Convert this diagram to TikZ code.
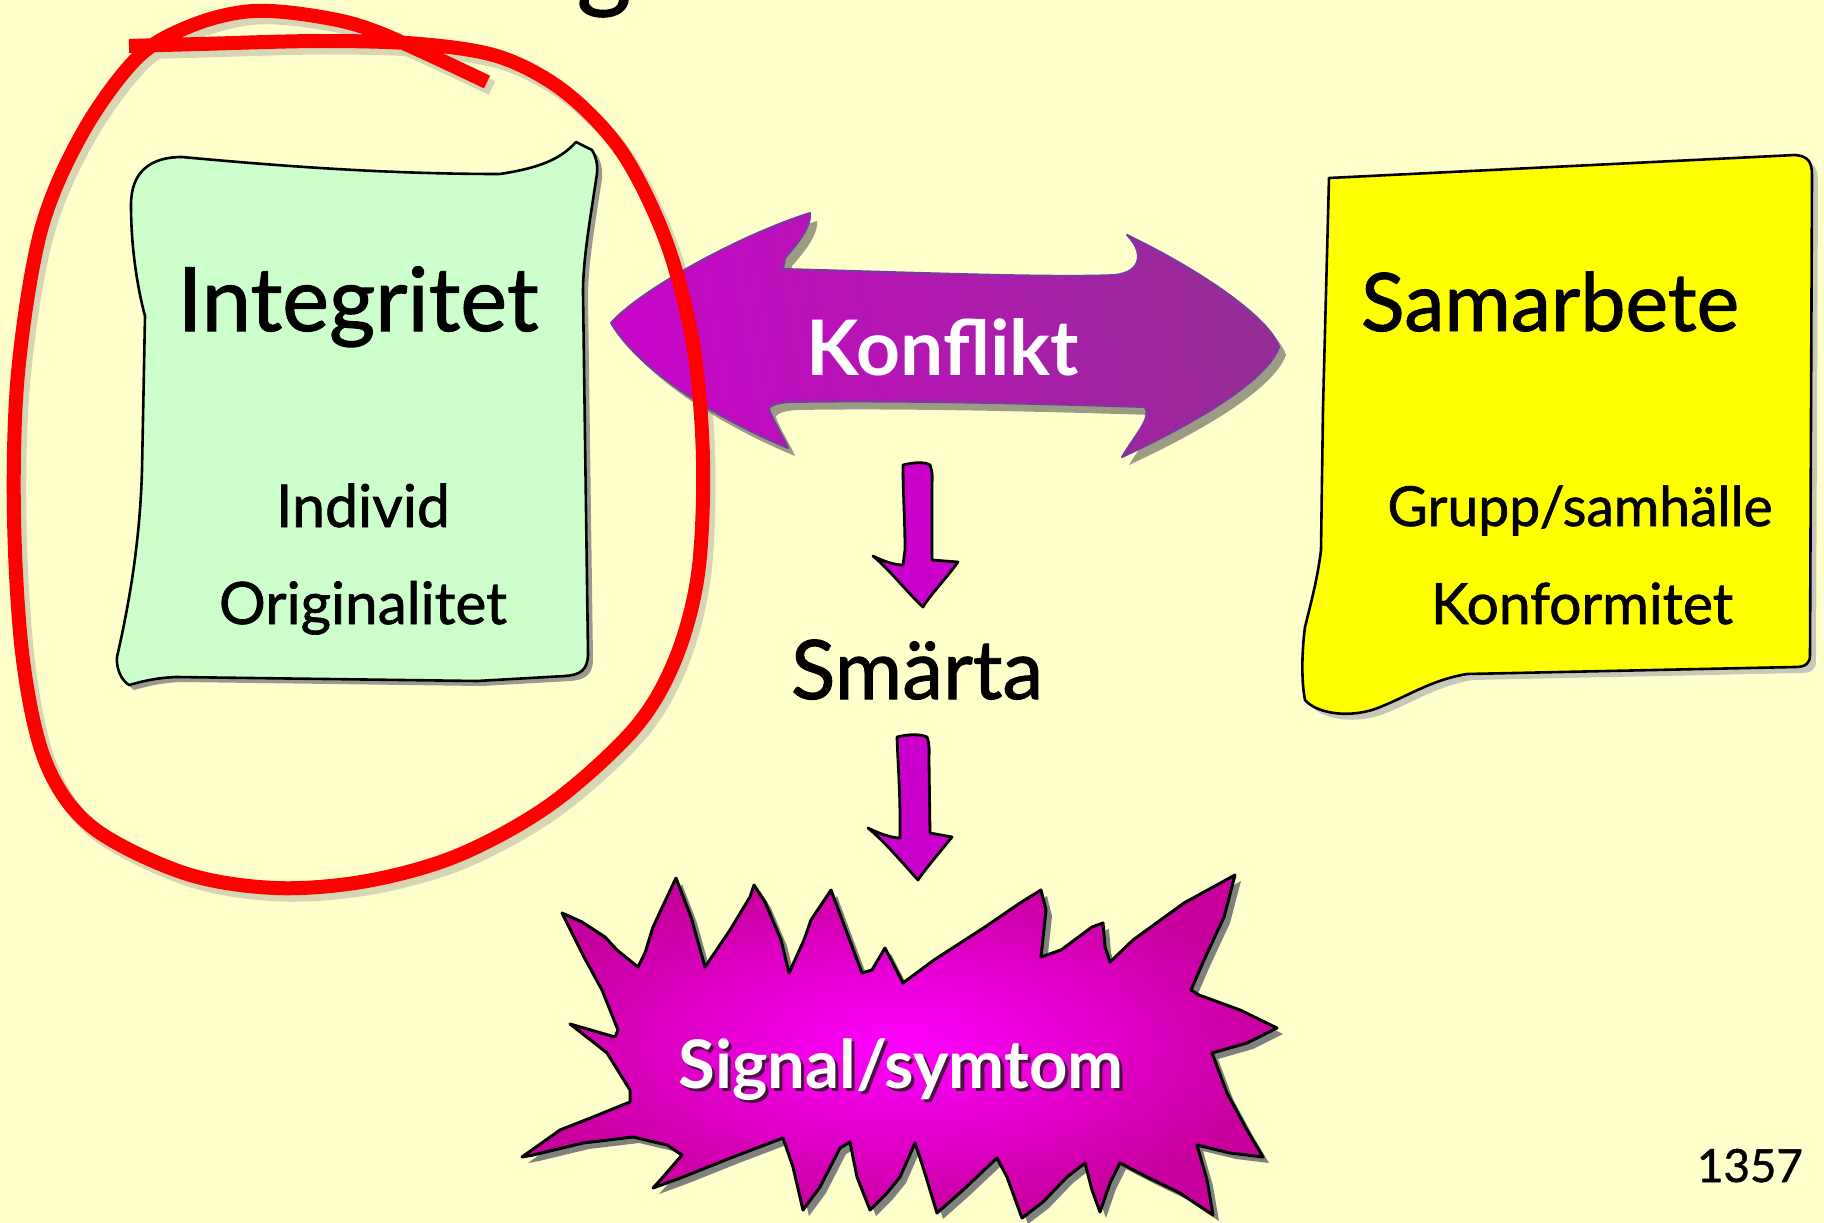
\documentclass[tikz,border=0pt]{standalone}
\usepackage{fontspec}
\usepackage{graphicx}
\setmainfont{Lato}
\newfontfamily\handfont[FakeBold=1.2]{Lato}
\definecolor{bg}{HTML}{FFFFCC}
\definecolor{mint}{HTML}{CCFFCC}
\definecolor{lemon}{HTML}{FFFF00}
\definecolor{violetL}{HTML}{C806C8}
\definecolor{violetR}{HTML}{962C96}
\definecolor{violetEdge}{HTML}{7A3AA0}
\definecolor{magentaC}{HTML}{FF00FF}
\definecolor{magentaE}{HTML}{C8009E}
\definecolor{arrowfill}{HTML}{CC00CC}
\definecolor{loopred}{HTML}{FF0000}
\definecolor{signalshade}{HTML}{4A1040}
\newcommand{\setfs}[1]{\fontsize{#1}{#1}\selectfont}
% set a word at a given width (in pt, one pt per pixel here)
\newcommand{\fitw}[2]{\resizebox{#1pt}{!}{#2}}
% white word with a dark copy behind it, offset down and right
\newcommand{\shadowword}[2]{\rlap{\raisebox{-3pt}{\hspace{3pt}\color{#1}#2}}\color{white}#2}
\tikzset{
  txt/.style={inner sep=0pt, anchor=base, font=\handfont\setfs{60}},
  boldtxt/.style={inner sep=0pt, anchor=base, font=\bfseries\setfs{60}},
  boxedge/.style={draw=black, line width=2.6pt, line join=round},
  boxshadow/.style={fill=black!50, opacity=0.8},
  blockarrow/.style={fill=arrowfill, draw=black, line width=2.8pt, line join=round},
}
\begin{document}
\begin{tikzpicture}[x=1pt,y=-1pt]
\useasboundingbox (0,0) rectangle (1824,1223);
\fill[bg] (0,0) rectangle (1824,1223);

% descender of the heading line above
\begin{scope}
\clip (0,0) rectangle (1824,1223);
\node[txt, font=\handfont\setfs{105}] (head) at (604,-2) {g};
\end{scope}

% ---------- red loop around the left note ----------
\def\looppath{plot[smooth, tension=0.55] coordinates {
 (129,46) (200,44) (321,41) (420,44) (500,57) (565,92) (622,152) (666,241)
 (693,344) (703,459) (698,574) (675,660) (634,729) (551,804) (459,855)
 (367,881) (275,888) (184,873) (92,827) (46,763) (23,660) (14,517)
 (18,373) (41,230) (83,132) (138,57) (193,25) (253,11) (321,17) (380,33) (487,82)}}
\draw[black!45, opacity=0.35, line width=15pt, shift={(5,6)}] \looppath;

% ---------- left note ----------
\def\mintpath{(145,316) .. controls (138,290) and (131,250) .. (131,205)
 .. controls (131,172) and (150,157) .. (182,157)
 .. controls (300,168) and (400,174) .. (500,174)
 .. controls (538,168) and (560,160) .. (576,142) -- (592,150)
 .. controls (598,160) and (598,170) .. (596,180)
 .. controls (590,220) and (583,260) .. (583,292) -- (588,654)
 .. controls (588,670) and (580,675) .. (565,676) -- (477,681) -- (176,677)
 .. controls (152,678) and (137,683) .. (129,685)
 .. controls (121,680) and (116,668) .. (117,657)
 .. controls (130,600) and (140,540) .. (142,470) -- cycle}
\fill[boxshadow, shift={(5,5)}] \mintpath;
\filldraw[fill=mint, boxedge] \mintpath;

% ---------- right note ----------
\def\lemonpath{(1329,178) -- (1795,155)
 .. controls (1808,156) and (1812,162) .. (1812,175) -- (1810,655)
 .. controls (1810,664) and (1805,667) .. (1795,667) -- (1467,674)
 .. controls (1430,680) and (1405,698) .. (1375,709)
 .. controls (1345,719) and (1315,712) .. (1305,700)
 .. controls (1301,680) and (1302,650) .. (1305,627)
 .. controls (1313,595) and (1318,575) .. (1321,550) -- (1323,408) -- cycle}
\fill[black!30, opacity=0.7, shift={(6,6)}] \lemonpath;
\filldraw[fill=lemon, boxedge] \lemonpath;

% ---------- double arrow ----------
\def\konfpath{(611,323) .. controls (640,290) and (740,235) .. (810,213)
 .. controls (812,228) and (792,250) .. (785,258) -- (783,269)
 .. controls (900,272) and (1050,278) .. (1115,275)
 .. controls (1142,272) and (1144,252) .. (1127,235)
 .. controls (1200,270) and (1270,318) .. (1279,347)
 .. controls (1265,385) and (1180,430) .. (1122,457)
 .. controls (1135,435) and (1152,418) .. (1145,407)
 .. controls (1050,404) and (900,400) .. (790,402)
 .. controls (772,403) and (766,408) .. (770,412)
 .. controls (776,426) and (785,440) .. (788,448)
 .. controls (720,420) and (640,372) .. (611,323) -- cycle}
\fill[black!70, opacity=0.55, shift={(7,8)}] \konfpath;
\shade[left color=violetL, right color=violetR, shading angle=100] \konfpath;
\draw[violetEdge, line width=2pt, line join=round] \konfpath;

% ---------- burst ----------
\def\burstpath{(562,913) -- (582,922) -- (605,937) -- (617,950) -- (638,967)
 -- (645,953) -- (653,927) -- (676,878) -- (691,917) -- (705,967)
 -- (730,930) -- (750,897) -- (754,885) -- (765,902) -- (781,940) -- (789,973)
 -- (804,940) -- (811,920) -- (831,890) -- (847,933) -- (862,973) -- (872,970)
 -- (885,948) -- (903,983) -- (934,960) -- (985,927) -- (1020,903) -- (1041,890)
 -- (1046,910) -- (1041,957) -- (1061,950) -- (1092,927) -- (1103,923)
 -- (1105,947) -- (1110,962) -- (1133,940) -- (1184,903) -- (1235,875)
 -- (1224,917) -- (1204,960) -- (1191,990) -- (1199,995) -- (1240,1010)
 -- (1277,1028) -- (1247,1043) -- (1212,1053) -- (1227,1093) -- (1247,1130)
 -- (1263,1157) -- (1230,1153) -- (1197,1145) -- (1207,1180) -- (1213,1215)
 -- (1180,1193) -- (1147,1177) -- (1120,1163) -- (1110,1183) -- (1100,1212)
 -- (1092,1190) -- (1085,1163) -- (1067,1177) -- (1043,1202) -- (1022,1218)
 -- (1007,1177) -- (997,1158) -- (963,1190) -- (937,1213) -- (923,1167)
 -- (915,1143) -- (900,1177) -- (887,1193) -- (870,1210) -- (857,1177)
 -- (850,1142) -- (840,1148) -- (820,1187) -- (803,1210) -- (793,1167)
 -- (783,1138) -- (733,1157) -- (683,1177) -- (653,1188) -- (663,1177)
 -- (682,1155) -- (667,1145) -- (633,1137) -- (583,1143) -- (533,1155)
 -- (522,1157) -- (560,1130) -- (593,1117) -- (630,1102) -- (630,1090)
 -- (607,1053) -- (597,1045) -- (570,1024) -- (615,1037) -- (618,1030)
 -- (602,990) -- (584,957) -- cycle}
\fill[black!50, shift={(6,6)}] \burstpath;
\shade[inner color=magentaC, outer color=magentaE] \burstpath;
\draw[black, line width=3pt, line join=round] \burstpath;

% ---------- small down arrows ----------
\filldraw[blockarrow] (903,465) .. controls (915,462) and (925,462) .. (930,465)
 .. controls (933,472) and (932,478) .. (932,486) -- (932,560) -- (958,562)
 .. controls (945,580) and (930,595) .. (923,607)
 .. controls (905,590) and (890,570) .. (873,556)
 .. controls (885,562) and (895,565) .. (903,565) -- (905,550)
 .. controls (905,520) and (903,495) .. (903,465) -- cycle;
\filldraw[blockarrow] (897,737) .. controls (909,734) and (920,734) .. (927,737)
 .. controls (930,745) and (929,752) .. (929,760) -- (930,833) -- (952,837)
 .. controls (940,852) and (926,868) .. (918,880)
 .. controls (900,860) and (885,842) .. (868,828)
 .. controls (880,834) and (892,838) .. (900,838) -- (900,820)
 .. controls (900,790) and (898,765) .. (897,737) -- cycle;

% ---------- red loop ----------
\draw[loopred, line width=14pt] \looppath;

% ---------- texts ----------
\node[txt] (integ) at (358,331) {\fitw{361}{Integritet}};
\node[txt] (indiv) at (363,527) {\fitw{174}{Individ}};
\node[txt] (orig) at (363,624) {\fitw{288}{Originalitet}};
\node[txt] (samarb) at (1550,331) {\fitw{378}{Samarbete}};
\node[txt] (grupp) at (1580,526) {\fitw{385}{Grupp/samhälle}};
\node[txt] (konform) at (1582,624) {\fitw{302}{Konformitet}};
\node[boldtxt, text=white] (konflikt) at (943,375) {\fitw{272}{Konflikt}};
\node[txt] (smarta) at (917,699) {\fitw{252}{Smärta}};
\node[boldtxt] (signal) at (901,1088) {\fitw{445}{\shadowword{signalshade}{Signal/symtom}}};
\node[txt] (num) at (1750,1182) {\fitw{106}{1357}};
\end{tikzpicture}
\end{document}
